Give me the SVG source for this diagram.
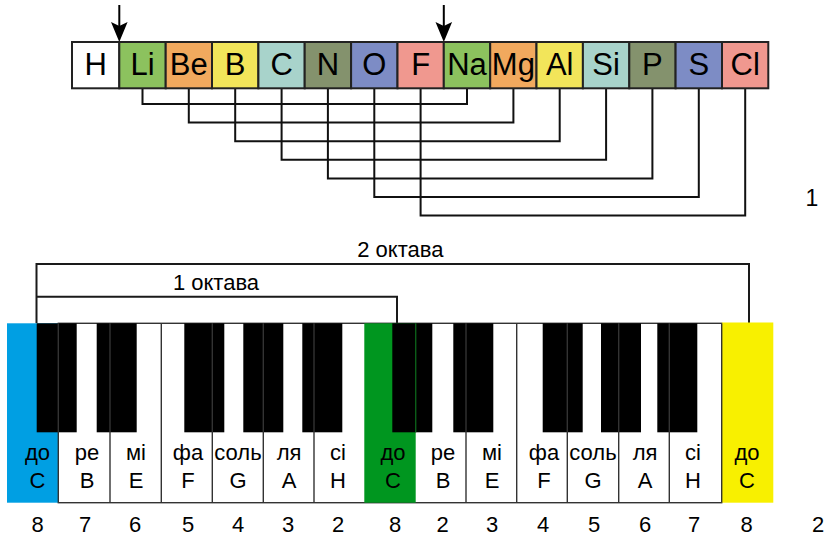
<svg xmlns="http://www.w3.org/2000/svg" width="825" height="536" viewBox="0 0 825 536">
<style>
text{font-family:"Liberation Sans",Arial,sans-serif;fill:#000}
.el rect{stroke:#222;stroke-width:2}
.el text{font-size:31px;text-anchor:middle}
.conn path{fill:none;stroke:#111;stroke-width:2}
.arr line{stroke:#000;stroke-width:2}
.br path{fill:none;stroke:#1a1a1a;stroke-width:2}
.lbl{font-size:22px;text-anchor:middle}
.bk{fill:#000}
.kl{stroke:#333;stroke-width:1.4}
.g1{fill:#8cc25e}.g2{fill:#f1a95e}.g3{fill:#f2e55a}.g4{fill:#a8d3cb}.g5{fill:#84926d}.g6{fill:#7d8cc5}.g7{fill:#f0988f}
</style>

<g id="arrows" class="arr">
<line x1="119.3" y1="5" x2="119.3" y2="30"/>
<polygon points="111,22 119.3,42 127.6,22 119.3,26"/>
<line x1="443.8" y1="5" x2="443.8" y2="30"/>
<polygon points="435.5,22 443.8,42 452.1,22 443.8,26"/>
</g>

<g id="connectors" class="conn">
<path d="M142.5 88V104H467V88"/>
<path d="M188.8 88V122.6H513.4V88"/>
<path d="M235.2 88V141.2H559.7V88"/>
<path d="M281.6 88V159.8H606.1V88"/>
<path d="M327.9 88V178.4H652.4V88"/>
<path d="M374.3 88V197H698.8V88"/>
<path d="M420.6 88V215.6H745.2V88"/>
</g>

<g id="el-H" class="el"><rect x="72" y="42" width="47.3" height="46.3" fill="#fff"/><text x="95.7" y="75">H</text></g>
<g id="el-Li" class="el"><rect class="g1" x="119.3" y="42" width="46.4" height="46.3"/><text x="142.5" y="75">Li</text></g>
<g id="el-Be" class="el"><rect class="g2" x="165.7" y="42" width="46.3" height="46.3"/><text x="188.8" y="75">Be</text></g>
<g id="el-B" class="el"><rect class="g3" x="212" y="42" width="46.4" height="46.3"/><text x="235.2" y="75">B</text></g>
<g id="el-C" class="el"><rect class="g4" x="258.4" y="42" width="46.3" height="46.3"/><text x="281.6" y="75">C</text></g>
<g id="el-N" class="el"><rect class="g5" x="304.7" y="42" width="46.4" height="46.3"/><text x="327.9" y="75">N</text></g>
<g id="el-O" class="el"><rect class="g6" x="351.1" y="42" width="46.4" height="46.3"/><text x="374.3" y="75">O</text></g>
<g id="el-F" class="el"><rect class="g7" x="397.5" y="42" width="46.3" height="46.3"/><text x="420.6" y="75">F</text></g>
<g id="el-Na" class="el"><rect class="g1" x="443.8" y="42" width="46.4" height="46.3"/><text x="467" y="75">Na</text></g>
<g id="el-Mg" class="el"><rect class="g2" x="490.2" y="42" width="46.3" height="46.3"/><text x="513.4" y="75">Mg</text></g>
<g id="el-Al" class="el"><rect class="g3" x="536.5" y="42" width="46.4" height="46.3"/><text x="559.7" y="75">Al</text></g>
<g id="el-Si" class="el"><rect class="g4" x="582.9" y="42" width="46.4" height="46.3"/><text x="606.1" y="75">Si</text></g>
<g id="el-P" class="el"><rect class="g5" x="629.3" y="42" width="46.3" height="46.3"/><text x="652.4" y="75">P</text></g>
<g id="el-S" class="el"><rect class="g6" x="675.6" y="42" width="46.4" height="46.3"/><text x="698.8" y="75">S</text></g>
<g id="el-Cl" class="el"><rect class="g7" x="722" y="42" width="46.3" height="46.3"/><text x="745.2" y="75">Cl</text></g>

<text id="label-1" x="812" y="206" style="font-size:23px;text-anchor:middle">1</text>

<g id="brackets" class="br">
<path d="M36.5 323.3V264H749V323"/>
<path d="M36.5 296.7H397V323.3"/>
</g>
<text id="oct2" x="400.3" y="257" class="lbl">2 октава</text>
<text id="oct1" x="216" y="290" class="lbl">1 октава</text>

<g id="keyboard">
<rect x="58.3" y="323.3" width="663.4" height="179.4" fill="#fff" stroke="#333" stroke-width="1.4"/>
<rect x="7" y="323.3" width="51.3" height="179.4" fill="#009fe3"/>
<rect x="364.3" y="323.3" width="51.4" height="179.4" fill="#00961f"/>
<rect x="721.7" y="322.5" width="51.6" height="180.2" fill="#f8f000"/>
<rect class="bk" x="36.7" y="323.3" width="40" height="109"/>
<rect class="bk" x="96.7" y="323.3" width="40" height="109"/>
<rect class="bk" x="184.3" y="323.3" width="40" height="109"/>
<rect class="bk" x="243.3" y="323.3" width="40" height="109"/>
<rect class="bk" x="302.3" y="323.3" width="40" height="109"/>
<rect class="bk" x="392.3" y="323.3" width="40" height="109"/>
<rect class="bk" x="453.3" y="323.3" width="40" height="109"/>
<rect class="bk" x="542.7" y="323.3" width="40" height="109"/>
<rect class="bk" x="601" y="323.3" width="40" height="109"/>
<rect class="bk" x="657.3" y="323.3" width="40" height="109"/>
<g class="kl">
<line x1="58.3" y1="323.3" x2="58.3" y2="502.7"/>
<line x1="110" y1="323.3" x2="110" y2="502.7"/>
<line x1="161.3" y1="323.3" x2="161.3" y2="502.7"/>
<line x1="212.3" y1="323.3" x2="212.3" y2="502.7"/>
<line x1="263.3" y1="323.3" x2="263.3" y2="502.7"/>
<line x1="314" y1="323.3" x2="314" y2="502.7"/>
<line x1="466" y1="323.3" x2="466" y2="502.7"/>
<line x1="516.7" y1="323.3" x2="516.7" y2="502.7"/>
<line x1="567.3" y1="323.3" x2="567.3" y2="502.7"/>
<line x1="618.7" y1="323.3" x2="618.7" y2="502.7"/>
<line x1="669.3" y1="323.3" x2="669.3" y2="502.7"/>
<line x1="721.7" y1="323.3" x2="721.7" y2="502.7"/>
<line x1="415.7" y1="323.3" x2="415.7" y2="432.3" style="stroke:#0b5d18"/>
</g>
</g>

<g id="key-labels" class="lbl">
<text x="37.5" y="460">до</text><text x="37.5" y="488">C</text>
<text x="87" y="460">ре</text><text x="87" y="488">B</text>
<text x="136" y="460">мі</text><text x="136" y="488">E</text>
<text x="188" y="460">фа</text><text x="188" y="488">F</text>
<text x="238" y="460">соль</text><text x="238" y="488">G</text>
<text x="289" y="460">ля</text><text x="289" y="488">A</text>
<text x="338" y="460">сі</text><text x="338" y="488">H</text>
<text x="393" y="460">до</text><text x="393" y="488">C</text>
<text x="443" y="460">ре</text><text x="443" y="488">B</text>
<text x="492" y="460">мі</text><text x="492" y="488">E</text>
<text x="544" y="460">фа</text><text x="544" y="488">F</text>
<text x="593" y="460">соль</text><text x="593" y="488">G</text>
<text x="645" y="460">ля</text><text x="645" y="488">A</text>
<text x="693" y="460">сі</text><text x="693" y="488">H</text>
<text x="747" y="460">до</text><text x="747" y="488">C</text>
</g>

<g id="numbers" class="lbl">
<text x="37.7" y="531.7">8</text>
<text x="85" y="531.7">7</text>
<text x="135" y="531.7">6</text>
<text x="188" y="531.7">5</text>
<text x="238" y="531.7">4</text>
<text x="288" y="531.7">3</text>
<text x="338" y="531.7">2</text>
<text x="395" y="531.7">8</text>
<text x="442.7" y="531.7">2</text>
<text x="492" y="531.7">3</text>
<text x="543" y="531.7">4</text>
<text x="594" y="531.7">5</text>
<text x="645" y="531.7">6</text>
<text x="694" y="531.7">7</text>
<text x="746.7" y="531.7">8</text>
</g>
<text id="label-2" x="818" y="531.7" class="lbl">2</text>
</svg>
